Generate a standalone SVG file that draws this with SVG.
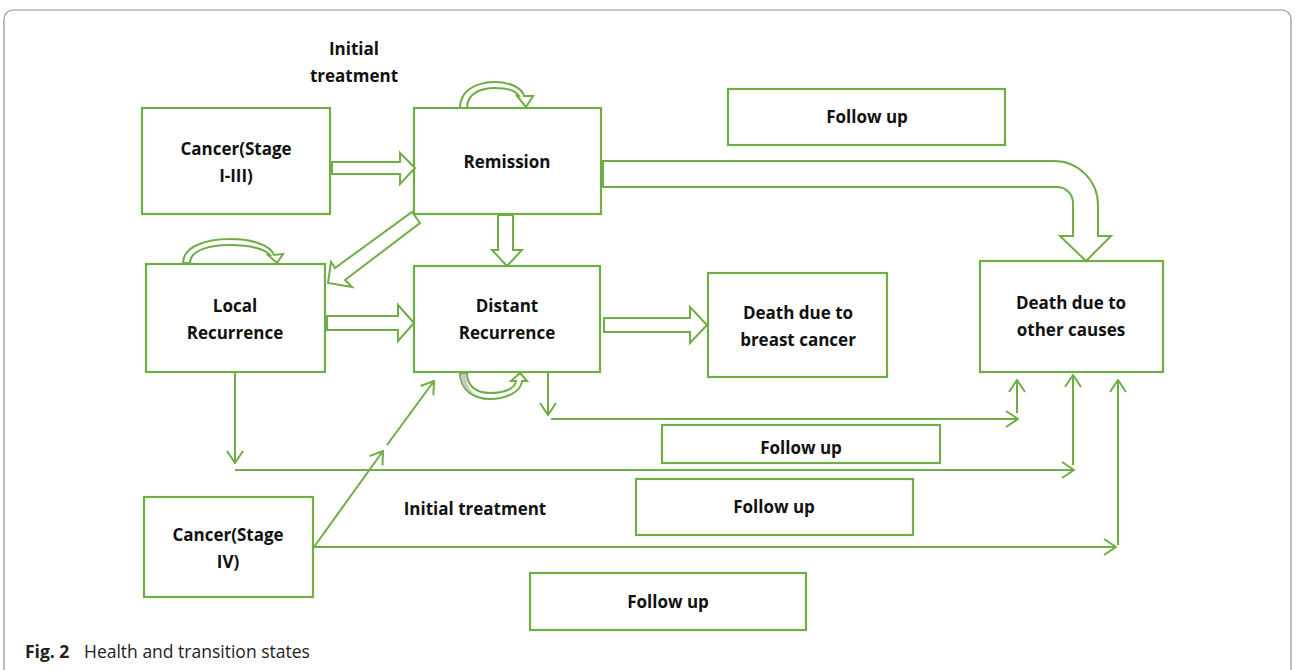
<svg xmlns="http://www.w3.org/2000/svg" width="1295" height="670" viewBox="0 0 1295 670">
<style>
.box{fill:#fff;stroke:#70AD47;stroke-width:2.2}
.blk{fill:#fff;stroke:#70AD47;stroke-width:2;stroke-linejoin:miter}
.ln{fill:none;stroke:#70AD47;stroke-width:2;marker-end:url(#ah)}
.t{font-family:"Open Sans","Liberation Sans",sans-serif;font-weight:bold;font-size:17px;fill:#111;text-anchor:middle}
.cap{font-family:"Open Sans","Liberation Sans",sans-serif;font-size:17.5px;fill:#222}
</style>
<defs>
<marker id="ah" viewBox="0 0 14 18" refX="13" refY="9" markerWidth="14" markerHeight="18" markerUnits="userSpaceOnUse" orient="auto">
<path d="M1,1 L13,9 L1,17" fill="none" stroke="#70AD47" stroke-width="2"/>
</marker>
<clipPath id="fc"><rect x="662" y="425" width="278" height="38"/></clipPath>
</defs>
<rect x="4" y="10" width="1287" height="690" rx="9" fill="#fff" stroke="#8f8f8f" stroke-width="1.2"/>

<g id="labels">
<text class="t" x="354" y="55">Initial</text>
<text class="t" x="354" y="82">treatment</text>
<text class="t" x="475" y="515">Initial treatment</text>
</g>

<g id="n-cancer13"><rect class="box" x="142" y="108" width="188" height="106"/>
<text class="t" x="236" y="155">Cancer(Stage</text><text class="t" x="236" y="182">I-III)</text></g>
<g id="n-remission"><rect class="box" x="414" y="108" width="187" height="106"/>
<text class="t" x="507" y="168">Remission</text></g>
<g id="n-follow1"><rect class="box" x="728" y="89" width="277" height="56"/>
<text class="t" x="867" y="123">Follow up</text></g>
<g id="n-local"><rect class="box" x="146" y="264" width="179" height="108"/>
<text class="t" x="235" y="312">Local</text><text class="t" x="235" y="339">Recurrence</text></g>
<g id="n-distant"><rect class="box" x="414" y="266" width="186" height="106"/>
<text class="t" x="507" y="312">Distant</text><text class="t" x="507" y="339">Recurrence</text></g>
<g id="n-deathbc"><rect class="box" x="708" y="273" width="179" height="104"/>
<text class="t" x="798" y="319">Death due to</text><text class="t" x="798" y="346">breast cancer</text></g>
<g id="n-deathoc"><rect class="box" x="980" y="261" width="183" height="111"/>
<text class="t" x="1071" y="309">Death due to</text><text class="t" x="1071" y="336">other causes</text></g>
<g id="n-follow2"><rect class="box" x="662" y="425" width="278" height="38"/>
<text class="t" x="801" y="454" clip-path="url(#fc)">Follow up</text></g>
<g id="n-follow3"><rect class="box" x="636" y="479" width="277" height="56"/>
<text class="t" x="774" y="513">Follow up</text></g>
<g id="n-cancer4"><rect class="box" x="144" y="497" width="169" height="100"/>
<text class="t" x="228" y="541">Cancer(Stage</text><text class="t" x="228" y="568">IV)</text></g>
<g id="n-follow4"><rect class="box" x="530" y="573" width="276" height="57"/>
<text class="t" x="668" y="608">Follow up</text></g>

<g id="connectors">
<polygon class="blk" points="332,162 400,162 400,153 415,168 400,184 400,174 332,174"/>
<polygon class="blk" points="498,215 513,215 513,250 522,250 507,266 492,250 498,250"/>
<polygon class="blk" points="412,212 420,223 345,280 352,287 328,283 331,262 335,268"/>
<polygon class="blk" points="327,316 398,316 398,305 414,323 398,341 398,330 327,330"/>
<polygon class="blk" points="604,318 690,318 690,307 707,325 690,343 690,332 604,332"/>
<path class="blk" d="M603,161 L1054,161 A44,44 0 0 1 1098,205 L1098,236 L1111,236 L1086,261 L1060,236 L1073,236 L1073,203 A16,16 0 0 0 1057,187 L603,187 Z"/>
<path class="blk" d="M460,108 C460,88 480,82 495,82 C510,82 522,88 524,96 L533,96 L526,107 L517,96 L519,96 C516,91 507,88 495,88 C483,88 467,92 467,108 Z"/>
<path class="blk" d="M183,263 C183,247 205,239 230,239 C252,239 270,245 274,255 L283,254 L277,263 L268,255 L270,255 C265,249 250,245 230,245 C210,245 190,250 190,263 Z"/>
<path class="blk" d="M460,373 C460,390 474,399 490,399 C506,399 521,392 522,381 L527,381 L520,373 L511,381 L516,381 C515,389 504,393 490,393 C476,393 467,386 467,373 Z"/>
<path d="M461,374 L466,374 C466,385 470,391 476,394 C467,391 461,385 461,374 Z" fill="#c8c8c8"/>
<path class="ln" d="M548,373 L548,415"/>
<path class="ln" d="M551,419 L1018,419"/>
<path class="ln" d="M1017,413 L1017,380"/>
<path class="ln" d="M235,373 L235,463"/>
<path class="ln" d="M235,470 L1074,470"/>
<path class="ln" d="M1073,465 L1073,375"/>
<path class="ln" d="M314,547 L383,451"/>
<path class="ln" d="M387,445 L434,381"/>
<path class="ln" d="M314,547 L1116,547"/>
<path class="ln" d="M1118,545 L1118,380"/>
</g>

<text class="cap" x="25" y="658"><tspan font-weight="bold">Fig. 2</tspan><tspan x="84">Health and transition states</tspan></text>
</svg>
